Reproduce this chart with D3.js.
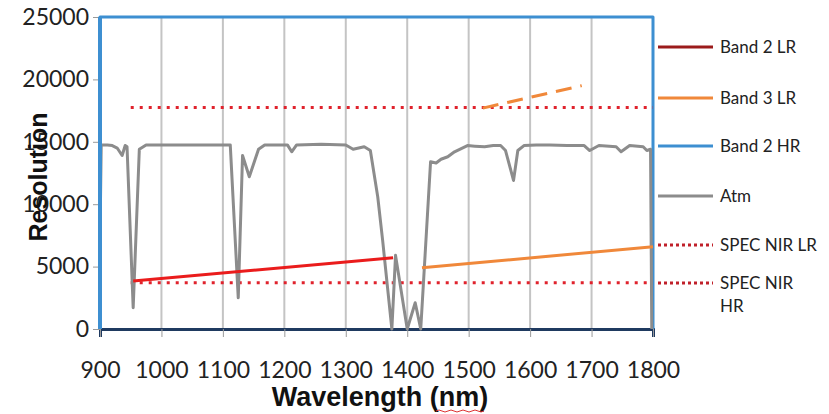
<!DOCTYPE html>
<html>
<head>
<meta charset="utf-8">
<script src="https://cdn.jsdelivr.net/npm/d3@7"></script>
<style>
  body { margin: 0; background: #fff; }
  svg { display: block; }
</style>
</head>
<body>
<script>
// wavelength ticks and y ticks
var xTicks = [900, 1000, 1100, 1200, 1300, 1400, 1500, 1600, 1700, 1800];
var yTicks = [0, 5000, 10000, 15000, 20000, 25000];

// series, [wavelength nm, resolution]
var band2LR = [[954, 3850], [1377, 5700]];
var band3LR = [[1424, 4900], [1800, 6600]];
var band3Ext = [[1523, 17700], [1684, 19500]];
var band2HR = [[900, 0], [900, 25000], [1800, 25000], [1800, 0]];
var specNirLR = [[950, 17750], [1800, 17750]];
var specNirHR = [[950, 3700], [1800, 3700]];
var atm = [[900, 7400], [902, 14750], [912, 14750], [920, 14700], [928, 14500],
           [936, 13900], [941, 14700], [944, 14600], [954, 1700], [964, 14400],
           [975, 14750], [1040, 14750], [1112, 14750], [1125, 2500], [1132, 13900],
           [1143, 12200], [1158, 14400], [1168, 14750], [1205, 14750], [1212, 14200],
           [1220, 14750], [1260, 14800], [1300, 14750], [1312, 14400], [1330, 14600],
           [1340, 14300], [1352, 10600], [1360, 7100], [1368, 3300], [1375, 0],
           [1381, 5900], [1400, 0], [1413, 2100], [1422, 0], [1438, 13400],
           [1447, 13300], [1455, 13600], [1466, 13800], [1477, 14200], [1498, 14700],
           [1510, 14650], [1526, 14600], [1540, 14700], [1552, 14700], [1560, 14300],
           [1573, 11900], [1580, 14300], [1590, 14700], [1610, 14750], [1632, 14750],
           [1660, 14700], [1688, 14700], [1697, 14300], [1712, 14700], [1740, 14600],
           [1748, 14200], [1762, 14700], [1784, 14600], [1790, 14300], [1796, 14400],
           [1798, 0]];

var legendItems = [
  {name: ["Band 2 LR"], color: "#9b1b1b", dash: null},
  {name: ["Band 3 LR"], color: "#f0883a", dash: null},
  {name: ["Band 2 HR"], color: "#3d8fd1", dash: null},
  {name: ["Atm"], color: "#8c8c8c", dash: null},
  {name: ["SPEC NIR LR"], color: "#c0202a", dash: "3,3"},
  {name: ["SPEC NIR", "HR"], color: "#c0202a", dash: "3,3"}
];
var legendY = [47, 98, 146, 196, 245, 283];

const WIDTH = 829;
const HEIGHT = 414;
const LEFT = 100;
const TOP = 17;
const INNER_WIDTH = 553;
const INNER_HEIGHT = 312;

var translate = function (x, y) {
  return "translate(" + x + "," + y + ")";
};

var xScale = d3.scaleLinear().domain([900, 1800]).range([0, INNER_WIDTH]);
var yScale = d3.scaleLinear().domain([0, 25000]).range([INNER_HEIGHT, 0]);

var line = d3.line()
  .x(function (d) { return xScale(d[0]); })
  .y(function (d) { return yScale(d[1]); });

var svg = d3.select("body").append("svg")
  .attr("width", WIDTH)
  .attr("height", HEIGHT);

var g = svg.append("g").attr("transform", translate(LEFT, TOP));

// vertical gridlines
g.append("g").selectAll("line")
  .data(xTicks.slice(1, -1)).enter().append("line")
  .attr("x1", function (d) { return xScale(d); })
  .attr("x2", function (d) { return xScale(d); })
  .attr("y1", 0).attr("y2", INNER_HEIGHT)
  .attr("stroke", "#c4c4c4").attr("stroke-width", 2);

// axes
var xAxis = g.append("g")
  .attr("transform", translate(0, INNER_HEIGHT))
  .call(d3.axisBottom(xScale).tickValues(xTicks).tickSize(8).tickPadding(25).tickFormat(d3.format("d")));
xAxis.select(".domain").attr("stroke", "#1f3a60").attr("stroke-width", 3);
xAxis.selectAll(".tick line").attr("stroke", "#9a9a9a");
xAxis.selectAll("text").attr("font-family", "Lato").attr("font-size", 23).attr("fill", "#222");

var yAxis = g.append("g")
  .call(d3.axisLeft(yScale).tickValues(yTicks).tickSize(7).tickPadding(4).tickFormat(d3.format("d")));
yAxis.select(".domain").remove();
yAxis.selectAll(".tick line").attr("stroke", "#9a9a9a");
yAxis.selectAll("text").attr("font-family", "Lato").attr("font-size", 23).attr("fill", "#222");

var drawLine = function (data, color, width, dash) {
  g.append("path")
    .attr("d", line(data))
    .attr("fill", "none")
    .attr("stroke", color)
    .attr("stroke-width", width)
    .attr("stroke-dasharray", dash)
    .attr("stroke-linejoin", "round");
};

drawLine(band2HR, "#3d8fd1", 3, null);
drawLine(specNirLR, "#e0222c", 3, "3,6");
drawLine(specNirHR, "#e0222c", 3, "3,6");
drawLine(atm, "#8c8c8c", 3, null);
drawLine(band2LR, "#ea1c1c", 3, null);
drawLine(band3LR, "#f0883a", 3, null);
drawLine(band3Ext, "#f0883a", 3, "16,9");

// thicker left edge of the frame
g.append("line")
  .attr("x1", 0).attr("x2", 0).attr("y1", 0).attr("y2", INNER_HEIGHT)
  .attr("stroke", "#3d8fd1").attr("stroke-width", 4);

// axis titles
svg.append("text")
  .attr("x", 380).attr("y", 406)
  .attr("text-anchor", "middle")
  .attr("font-family", "Liberation Sans").attr("font-weight", "bold").attr("font-size", 27)
  .attr("fill", "#111")
  .text("Wavelength (nm)");
svg.append("path")
  .attr("d", "M436,411 q3,-2 6,0 t6,0 t6,0 t6,0 t6,0 t6,0 t6,0 t6,0")
  .attr("fill", "none").attr("stroke", "#d33").attr("stroke-width", 1);

svg.append("text")
  .attr("transform", translate(47, 177) + " rotate(-90)")
  .attr("text-anchor", "middle")
  .attr("font-family", "Liberation Sans").attr("font-weight", "bold").attr("font-size", 25)
  .attr("fill", "#111")
  .text("Resolution");

// legend
var legend = svg.append("g").selectAll("g")
  .data(legendItems).enter().append("g")
  .attr("transform", function (d, i) { return translate(658, legendY[i]); });
legend.append("line")
  .attr("x1", 0).attr("x2", 55).attr("y1", 0).attr("y2", 0)
  .attr("stroke", function (d) { return d.color; })
  .attr("stroke-width", 3)
  .attr("stroke-dasharray", function (d) { return d.dash; });
legend.append("text")
  .attr("x", 62).attr("y", 6)
  .attr("font-family", "Lato").attr("font-size", 17).attr("fill", "#222")
  .selectAll("tspan").data(function (d) { return d.name; }).enter().append("tspan")
  .attr("x", 62).attr("dy", function (d, i) { return i === 0 ? 0 : 23; })
  .text(function (d) { return d; });
</script>
</body>
</html>
